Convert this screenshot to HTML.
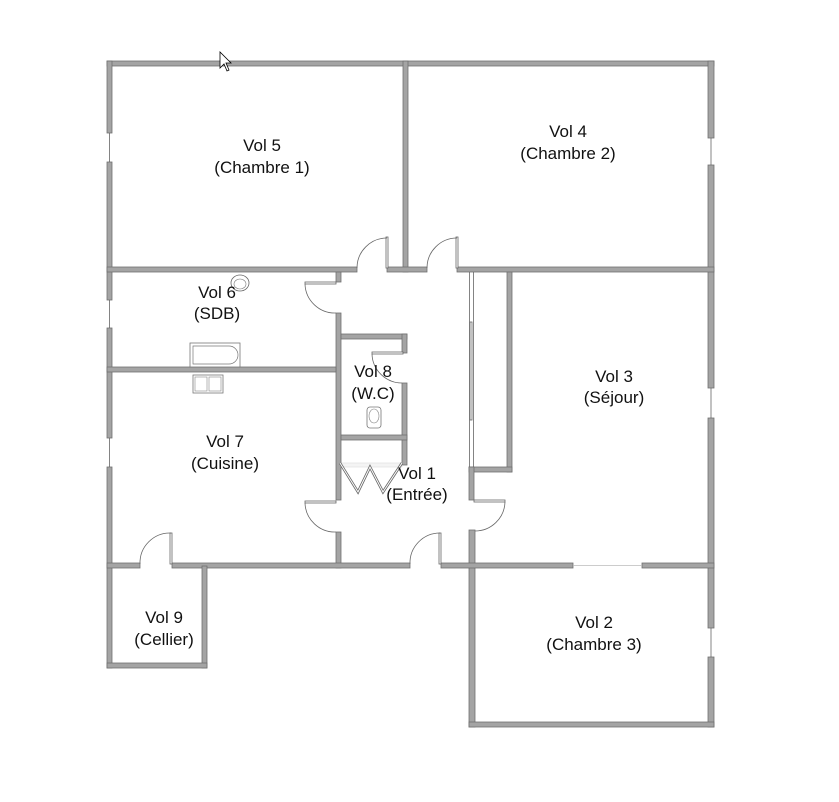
<!DOCTYPE html>
<html><head><meta charset="utf-8"><style>
html,body{margin:0;padding:0;background:#fff;}
svg{display:block;}
text{font-family:"Liberation Sans",Arial,sans-serif;font-size:17px;fill:#111;text-anchor:middle;}
.w{fill:#a4a4a4;stroke:#707070;stroke-width:0.8;}
.t{fill:none;stroke:#666;stroke-width:0.8;}
.leaf{fill:#fff;stroke:#666;stroke-width:0.8;}
.lt{fill:none;stroke:#bbb;stroke-width:0.8;}
</style></head><body>
<svg width="839" height="802" viewBox="0 0 839 802" xmlns="http://www.w3.org/2000/svg">
<rect class="w" x="107" y="61" width="607" height="5"/>
<rect class="w" x="107" y="61" width="5" height="72"/>
<rect class="w" x="107" y="162" width="5" height="138"/>
<rect class="w" x="107" y="328" width="5" height="110"/>
<rect class="w" x="107" y="467" width="5" height="201"/>
<line class="t" x1="109.5" y1="133" x2="109.5" y2="162"/>
<line class="t" x1="109.5" y1="300" x2="109.5" y2="328"/>
<line class="t" x1="109.5" y1="438" x2="109.5" y2="467"/>
<rect class="w" x="708" y="61" width="6" height="77"/>
<rect class="w" x="708" y="165" width="6" height="223"/>
<rect class="w" x="708" y="418" width="6" height="210"/>
<rect class="w" x="708" y="657" width="6" height="70"/>
<line class="t" x1="711" y1="138" x2="711" y2="165"/>
<line class="t" x1="711" y1="388" x2="711" y2="418"/>
<line class="t" x1="711" y1="628" x2="711" y2="657"/>
<rect class="w" x="403" y="61" width="5" height="211"/>
<rect class="w" x="107" y="267" width="250" height="5"/>
<rect class="w" x="387" y="267" width="40" height="5"/>
<rect class="w" x="457" y="267" width="257" height="5"/>
<rect class="leaf" x="386" y="237" width="2" height="31"/>
<path class="t" d="M357,268 A30,30 0 0 1 387,238"/>
<rect class="leaf" x="456" y="237" width="2" height="31"/>
<path class="t" d="M427,268 A30,30 0 0 1 457,238"/>
<rect class="w" x="507" y="272" width="5" height="200"/>
<rect class="w" x="469" y="467" width="43" height="5"/>
<rect class="w" x="469" y="467" width="5" height="33"/>
<rect class="w" x="469" y="530" width="6" height="197"/>
<line class="t" x1="469.5" y1="272" x2="469.5" y2="467"/>
<line class="t" x1="473.5" y1="272" x2="473.5" y2="467"/>
<rect class="leaf" x="470" y="322" width="2" height="98"/>
<rect class="leaf" x="474" y="500" width="31" height="2"/>
<path class="t" d="M505,502 A30,30 0 0 1 475,531"/>
<rect class="w" x="336" y="272" width="5" height="10"/>
<rect class="w" x="336" y="313" width="5" height="187"/>
<rect class="w" x="336" y="532" width="5" height="36"/>
<rect class="leaf" x="305" y="282" width="31" height="2"/>
<path class="t" d="M305,284 A30,30 0 0 0 336,313"/>
<rect class="leaf" x="305" y="501" width="31" height="2"/>
<path class="t" d="M305,503 A30,30 0 0 0 336,532"/>
<rect class="w" x="107" y="367" width="229" height="5"/>
<rect class="w" x="341" y="334" width="66" height="5"/>
<rect class="w" x="402" y="334" width="5" height="19"/>
<rect class="w" x="402" y="383" width="5" height="82"/>
<rect class="w" x="341" y="435" width="66" height="5"/>
<rect class="leaf" x="372" y="352" width="31" height="2"/>
<path class="t" d="M372,354 A30,30 0 0 0 402,383"/>
<rect x="341" y="463" width="61" height="4" fill="#f4f4f4" stroke="#ddd" stroke-width="0.6"/>
<polyline points="340,463 358,492 370,467 383,492 402,463" fill="none" stroke="#666" stroke-width="2.6"/>
<polyline points="340,463 358,492 370,467 383,492 402,463" fill="none" stroke="#fff" stroke-width="1"/>
<rect class="w" x="107" y="563" width="33" height="5"/>
<rect class="w" x="172" y="563" width="238" height="5"/>
<rect class="w" x="441" y="563" width="132" height="5"/>
<rect class="w" x="642" y="563" width="72" height="5"/>
<line class="lt" x1="573" y1="565.5" x2="642" y2="565.5"/>
<rect class="leaf" x="170" y="533" width="2" height="31"/>
<path class="t" d="M140,564 A30,30 0 0 1 171,533"/>
<rect class="leaf" x="439" y="533" width="2" height="31"/>
<path class="t" d="M410,564 A30,30 0 0 1 440,533"/>
<rect class="w" x="202" y="566" width="5" height="102"/>
<rect class="w" x="107" y="663" width="100" height="5"/>
<rect class="w" x="469" y="722" width="245" height="5"/>
<ellipse cx="240" cy="283" rx="9" ry="8" fill="#fff" stroke="#666" stroke-width="0.8"/>
<ellipse cx="240" cy="284" rx="6" ry="5" fill="none" stroke="#777" stroke-width="0.6"/>
<rect x="190" y="343" width="50" height="24" fill="#fff" stroke="#777" stroke-width="0.8"/>
<path d="M193,346 H229 A9,9 0 0 1 229,364 H193 Z" fill="none" stroke="#777" stroke-width="0.7"/>
<rect x="193" y="375" width="30" height="18" fill="#fff" stroke="#777" stroke-width="0.8"/>
<rect x="195" y="377" width="12" height="14" fill="none" stroke="#888" stroke-width="0.6"/>
<rect x="209" y="377" width="12" height="14" fill="none" stroke="#888" stroke-width="0.6"/>
<rect x="367" y="407" width="14" height="21" rx="3" fill="#fff" stroke="#777" stroke-width="0.8"/>
<ellipse cx="374" cy="416" rx="5" ry="7" fill="none" stroke="#888" stroke-width="0.6"/>
<path d="M220,52 L220,68 L224,64 L227,71 L229,70 L226,63 L231,63 Z" fill="#fff" stroke="#000" stroke-width="0.8"/>
<text x="262" y="151">Vol 5</text><text x="262" y="173">(Chambre 1)</text>
<text x="568" y="137">Vol 4</text><text x="568" y="159">(Chambre 2)</text>
<text x="217" y="298">Vol 6</text><text x="217" y="319">(SDB)</text>
<text x="373" y="377">Vol 8</text><text x="373" y="399">(W.C)</text>
<text x="614" y="382">Vol 3</text><text x="614" y="403">(Séjour)</text>
<text x="225" y="447">Vol 7</text><text x="225" y="469">(Cuisine)</text>
<text x="417" y="479">Vol 1</text><text x="417" y="500">(Entrée)</text>
<text x="164" y="623">Vol 9</text><text x="164" y="645">(Cellier)</text>
<text x="594" y="628">Vol 2</text><text x="594" y="650">(Chambre 3)</text>
</svg>
</body></html>
